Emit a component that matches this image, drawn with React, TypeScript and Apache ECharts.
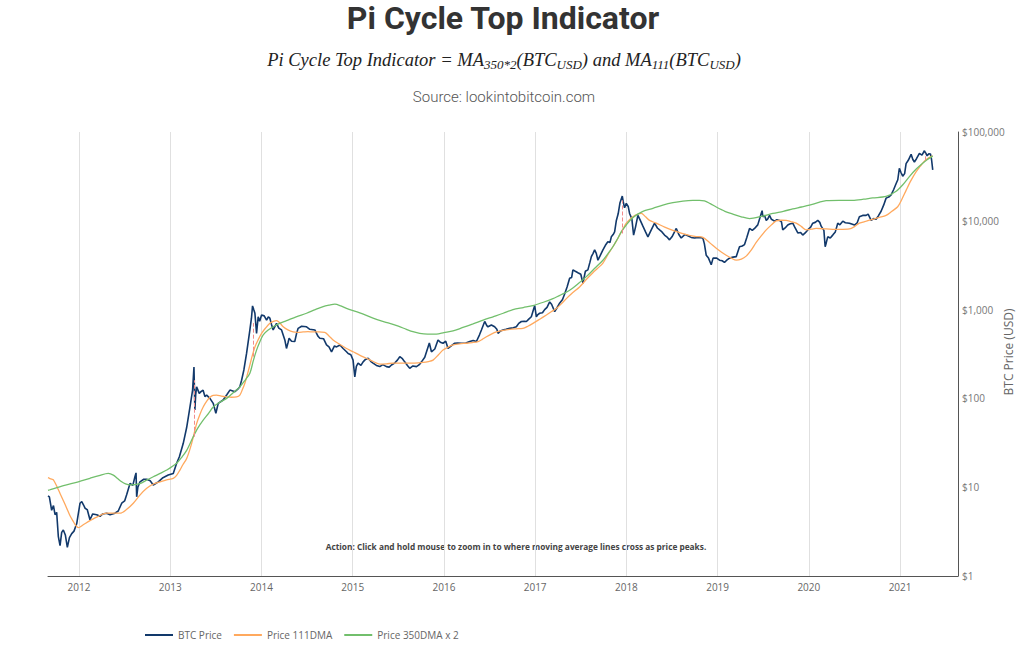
import React, { useEffect, useRef } from 'react';
import * as echarts from 'echarts';

// Decimal-year dates, values in USD
const btcPrice: [number, number][] = [
  [2011.66, 8.0], [2011.675, 7.8], [2011.7, 5.5], [2011.72, 6.2], [2011.737, 4.9], [2011.755, 5.2],
  [2011.773, 2.8], [2011.792, 2.2], [2011.81, 3.1], [2011.828, 3.3], [2011.85, 2.9], [2011.872, 2.1],
  [2011.895, 2.7], [2011.92, 3.0], [2011.945, 3.2], [2011.975, 3.9], [2011.992, 5.0], [2012.011, 6.6],
  [2012.03, 6.9], [2012.05, 6.3], [2012.066, 5.8], [2012.09, 5.6], [2012.12, 4.3], [2012.15, 5.0],
  [2012.194, 4.9], [2012.23, 4.7], [2012.26, 5.0], [2012.303, 5.1], [2012.34, 4.9], [2012.394, 5.1],
  [2012.43, 5.4], [2012.468, 6.6], [2012.5, 7.0], [2012.522, 8.2], [2012.559, 11.0], [2012.59, 10.5],
  [2012.613, 13.1], [2012.625, 14.5], [2012.632, 7.8], [2012.645, 10.0], [2012.668, 11.5], [2012.71, 12.3],
  [2012.742, 12.3], [2012.78, 11.8], [2012.814, 10.6], [2012.84, 11.0], [2012.869, 11.5], [2012.92, 12.8],
  [2012.978, 13.7], [2013.033, 14.3], [2013.07, 18.6], [2013.1, 22], [2013.142, 31], [2013.18, 47],
  [2013.216, 80], [2013.245, 124], [2013.26, 225], [2013.27, 74], [2013.279, 110], [2013.289, 135],
  [2013.318, 114], [2013.34, 120], [2013.36, 124], [2013.38, 105], [2013.399, 109], [2013.435, 100],
  [2013.471, 88], [2013.5, 68], [2013.526, 88], [2013.58, 96], [2013.62, 110], [2013.654, 124],
  [2013.709, 119], [2013.74, 127], [2013.763, 135], [2013.782, 160], [2013.807, 209], [2013.837, 323],
  [2013.873, 590], [2013.89, 800], [2013.902, 1100], [2013.915, 1000], [2013.928, 910], [2013.946, 540],
  [2013.964, 830], [2013.98, 740], [2014.001, 870], [2014.03, 850], [2014.056, 760], [2014.075, 830],
  [2014.092, 800], [2014.11, 680], [2014.128, 590], [2014.145, 640], [2014.165, 700], [2014.19, 620],
  [2014.22, 590], [2014.256, 455], [2014.274, 365], [2014.29, 420], [2014.303, 475], [2014.33, 440],
  [2014.365, 437], [2014.385, 540], [2014.402, 615], [2014.44, 650], [2014.494, 640], [2014.53, 600],
  [2014.585, 590], [2014.62, 500], [2014.64, 475], [2014.68, 470], [2014.713, 400], [2014.74, 380],
  [2014.768, 335], [2014.8, 390], [2014.823, 380], [2014.86, 400], [2014.895, 365], [2014.932, 335],
  [2014.95, 320], [2014.98, 310], [2015.004, 270], [2015.023, 175], [2015.04, 230], [2015.059, 250],
  [2015.09, 235], [2015.114, 258], [2015.14, 275], [2015.169, 283], [2015.2, 260], [2015.223, 250],
  [2015.26, 235], [2015.297, 228], [2015.33, 240], [2015.37, 228], [2015.4, 225], [2015.425, 238],
  [2015.46, 250], [2015.49, 270], [2015.516, 295], [2015.545, 280], [2015.57, 258], [2015.6, 235],
  [2015.625, 218], [2015.66, 232], [2015.699, 228], [2015.73, 240], [2015.754, 258], [2015.79, 290],
  [2015.826, 380], [2015.84, 420], [2015.863, 335], [2015.9, 360], [2015.935, 455], [2015.96, 430],
  [2015.99, 418], [2016.02, 440], [2016.045, 365], [2016.08, 390], [2016.118, 418], [2016.15, 420],
  [2016.192, 418], [2016.24, 420], [2016.283, 437], [2016.32, 450], [2016.356, 437], [2016.39, 520],
  [2016.411, 590], [2016.447, 735], [2016.47, 660], [2016.483, 640], [2016.52, 670], [2016.556, 640],
  [2016.58, 600], [2016.593, 540], [2016.62, 575], [2016.647, 590], [2016.68, 600], [2016.721, 615],
  [2016.76, 625], [2016.794, 640], [2016.82, 700], [2016.849, 735], [2016.88, 740], [2016.904, 735],
  [2016.93, 780], [2016.958, 830], [2016.995, 1110], [2017.013, 830], [2017.03, 880], [2017.049, 910],
  [2017.08, 920], [2017.104, 1000], [2017.13, 1060], [2017.159, 1220], [2017.18, 1150], [2017.214, 950],
  [2017.24, 1050], [2017.268, 1180], [2017.3, 1300], [2017.323, 1500], [2017.35, 1800], [2017.378, 2250],
  [2017.4, 2300], [2017.414, 2800], [2017.44, 2700], [2017.469, 2600], [2017.5, 2500], [2017.524, 1980],
  [2017.55, 2700], [2017.578, 2800], [2017.6, 3400], [2017.616, 3950], [2017.635, 4300], [2017.652, 4700],
  [2017.67, 4300], [2017.688, 3600], [2017.71, 4000], [2017.743, 4700], [2017.77, 5300], [2017.797, 5800],
  [2017.82, 5700], [2017.835, 6600], [2017.855, 7000], [2017.871, 7500], [2017.89, 10100], [2017.91, 12000],
  [2017.93, 16000], [2017.955, 19000], [2017.965, 16500], [2017.98, 14000], [2017.999, 15700], [2018.02, 14500],
  [2018.035, 12100], [2018.06, 10500], [2018.079, 6900], [2018.1, 8500], [2018.126, 11500], [2018.145, 10500],
  [2018.181, 8700], [2018.21, 7500], [2018.236, 6600], [2018.27, 7800], [2018.309, 9400], [2018.34, 8300],
  [2018.364, 7900], [2018.39, 7500], [2018.418, 6900], [2018.45, 6500], [2018.473, 6100], [2018.5, 6600],
  [2018.547, 8200], [2018.575, 7000], [2018.601, 6400], [2018.64, 7000], [2018.674, 6800], [2018.71, 6500],
  [2018.747, 6400], [2018.79, 6500], [2018.838, 6400], [2018.855, 5500], [2018.875, 4100], [2018.9, 3800],
  [2018.93, 3200], [2018.95, 3800], [2018.966, 3800], [2018.99, 3800], [2019.021, 3600], [2019.05, 3550],
  [2019.075, 3400], [2019.1, 3600], [2019.13, 3800], [2019.17, 3900], [2019.204, 3950], [2019.24, 5100],
  [2019.27, 5200], [2019.295, 5400], [2019.32, 6500], [2019.35, 8200], [2019.38, 7800], [2019.405, 8200],
  [2019.44, 9000], [2019.478, 12100], [2019.488, 13000], [2019.496, 11100], [2019.515, 11500], [2019.533, 10100],
  [2019.55, 10500], [2019.569, 11500], [2019.59, 10400], [2019.624, 9900], [2019.65, 10300], [2019.679, 10100],
  [2019.7, 9700], [2019.714, 7900], [2019.74, 8300], [2019.769, 8960], [2019.79, 9200], [2019.824, 9400],
  [2019.85, 8300], [2019.879, 7300], [2019.91, 7400], [2019.933, 6900], [2019.96, 7300], [2019.988, 7900],
  [2020.02, 8500], [2020.043, 9400], [2020.07, 9600], [2020.098, 10100], [2020.12, 9600], [2020.135, 8700],
  [2020.165, 7800], [2020.179, 5100], [2020.19, 5600], [2020.207, 6600], [2020.235, 6400], [2020.262, 6900],
  [2020.29, 7500], [2020.317, 9400], [2020.34, 9000], [2020.372, 9900], [2020.4, 9500], [2020.445, 9400],
  [2020.47, 9200], [2020.5, 8960], [2020.53, 9500], [2020.554, 11100], [2020.59, 11500], [2020.628, 11500],
  [2020.65, 11900], [2020.683, 10100], [2020.71, 10600], [2020.737, 10400], [2020.76, 11300], [2020.792, 12800],
  [2020.82, 15000], [2020.847, 18000], [2020.875, 18500], [2020.902, 19600], [2020.93, 22500], [2020.957, 26300],
  [2020.975, 29000], [2020.992, 39000], [2021.01, 35000], [2021.029, 31800], [2021.05, 34000], [2021.066, 44000],
  [2021.09, 48000], [2021.121, 56000], [2021.14, 49000], [2021.157, 46000], [2021.18, 50000], [2021.212, 57500],
  [2021.24, 55000], [2021.267, 61500], [2021.28, 58000], [2021.297, 54000], [2021.315, 57000], [2021.333, 56500],
  [2021.345, 49000], [2021.358, 37500],
];

const dma111: [number, number][] = [
  [2011.66, 12.8], [2011.675, 12.6], [2011.7, 12.3], [2011.719, 12.1], [2011.755, 10.3], [2011.792, 8.5],
  [2011.83, 7.0], [2011.865, 5.8], [2011.9, 4.8], [2011.938, 4.1], [2011.965, 3.7], [2011.992, 3.5],
  [2012.05, 3.8], [2012.12, 4.2], [2012.21, 4.7], [2012.303, 5.1], [2012.38, 5.1], [2012.449, 5.1],
  [2012.52, 5.6], [2012.595, 6.6], [2012.67, 8.2], [2012.742, 9.7], [2012.81, 10.8], [2012.887, 11.5],
  [2012.96, 12.1], [2013.033, 12.6], [2013.07, 13.6], [2013.106, 15.6], [2013.14, 18], [2013.18, 21],
  [2013.234, 31], [2013.289, 52], [2013.325, 66], [2013.361, 80], [2013.4, 93], [2013.435, 103],
  [2013.47, 108], [2013.508, 109], [2013.56, 106], [2013.618, 104], [2013.67, 103], [2013.727, 104],
  [2013.763, 109], [2013.79, 125], [2013.818, 148], [2013.845, 185], [2013.873, 238], [2013.9, 305],
  [2013.928, 380], [2013.965, 460], [2014.001, 540], [2014.045, 620], [2014.092, 700], [2014.13, 735],
  [2014.165, 750], [2014.2, 710], [2014.238, 640], [2014.29, 590], [2014.347, 560], [2014.4, 555],
  [2014.457, 560], [2014.51, 565], [2014.566, 560], [2014.63, 560], [2014.694, 555], [2014.74, 505],
  [2014.785, 455], [2014.86, 405], [2014.932, 365], [2015.004, 335], [2015.08, 305], [2015.151, 283],
  [2015.22, 262], [2015.297, 243], [2015.37, 245], [2015.443, 250], [2015.515, 250], [2015.589, 250],
  [2015.68, 250], [2015.771, 254], [2015.83, 260], [2015.881, 270], [2015.94, 310], [2015.99, 350],
  [2016.045, 378], [2016.1, 400], [2016.17, 412], [2016.246, 418], [2016.31, 425], [2016.374, 437],
  [2016.42, 462], [2016.466, 495], [2016.52, 530], [2016.575, 560], [2016.65, 585], [2016.721, 600],
  [2016.79, 608], [2016.866, 615], [2016.92, 650], [2016.976, 700], [2017.05, 780], [2017.123, 870],
  [2017.18, 950], [2017.232, 1030], [2017.29, 1170], [2017.342, 1330], [2017.41, 1550], [2017.487, 1800],
  [2017.56, 2180], [2017.633, 2600], [2017.69, 2950], [2017.743, 3340], [2017.8, 4200], [2017.852, 5100],
  [2017.89, 5900], [2017.926, 6900], [2017.96, 8000], [2017.999, 9400], [2018.035, 10300], [2018.071, 11100],
  [2018.12, 11800], [2018.163, 12100], [2018.21, 11100], [2018.254, 10100], [2018.327, 9400], [2018.42, 8500],
  [2018.51, 7800], [2018.6, 7250], [2018.692, 6850], [2018.77, 6650], [2018.838, 6500], [2018.91, 5700],
  [2018.985, 4900], [2019.04, 4450], [2019.094, 4100], [2019.15, 3800], [2019.204, 3600], [2019.26, 3700],
  [2019.313, 4000], [2019.37, 4700], [2019.423, 5700], [2019.48, 6800], [2019.533, 7900], [2019.59, 9000],
  [2019.642, 10000], [2019.7, 10150], [2019.751, 10100], [2019.8, 9800], [2019.861, 9400], [2019.92, 8600],
  [2019.97, 7900], [2020.03, 8050], [2020.08, 8200], [2020.19, 8100], [2020.335, 8000], [2020.445, 8100],
  [2020.5, 8600], [2020.554, 9400], [2020.63, 9900], [2020.7, 10400], [2020.77, 10900], [2020.847, 11500],
  [2020.91, 12800], [2020.974, 14400], [2021.02, 17500], [2021.066, 22000], [2021.12, 28500], [2021.175, 35600],
  [2021.22, 41000], [2021.267, 47000], [2021.31, 51000], [2021.358, 54000],
];

const dma350x2: [number, number][] = [
  [2011.66, 9.2], [2011.675, 9.3], [2011.83, 10.4], [2011.992, 11.5], [2012.12, 12.6], [2012.22, 13.5],
  [2012.321, 14.3], [2012.376, 13.7], [2012.42, 12.6], [2012.468, 11.5], [2012.51, 10.9], [2012.559, 10.6],
  [2012.668, 11.0], [2012.74, 12.0], [2012.814, 13.1], [2012.89, 14.3], [2012.961, 15.6], [2013.07, 18.6],
  [2013.13, 22], [2013.18, 26], [2013.252, 37], [2013.3, 46], [2013.361, 57], [2013.42, 68],
  [2013.471, 80], [2013.54, 90], [2013.618, 100], [2013.69, 116], [2013.763, 135], [2013.82, 160],
  [2013.873, 192], [2013.91, 265], [2013.946, 350], [2013.98, 430], [2014.019, 520], [2014.07, 585],
  [2014.128, 640], [2014.2, 700], [2014.275, 750], [2014.38, 830], [2014.494, 910], [2014.59, 1000],
  [2014.676, 1080], [2014.74, 1120], [2014.804, 1150], [2014.87, 1100], [2014.932, 1030], [2015.078, 920],
  [2015.223, 800], [2015.32, 740], [2015.406, 700], [2015.5, 650], [2015.589, 600], [2015.66, 565],
  [2015.735, 540], [2015.82, 530], [2015.918, 530], [2016.0, 550], [2016.1, 575], [2016.2, 625],
  [2016.319, 690], [2016.43, 760], [2016.538, 830], [2016.65, 910], [2016.757, 1000], [2016.87, 1055],
  [2016.976, 1110], [2017.09, 1210], [2017.195, 1330], [2017.29, 1480], [2017.378, 1650], [2017.47, 1950],
  [2017.561, 2350], [2017.65, 2900], [2017.743, 3600], [2017.8, 4300], [2017.852, 5100], [2017.9, 6200],
  [2017.944, 7500], [2018.0, 9000], [2018.054, 10500], [2018.12, 11800], [2018.181, 12800], [2018.291, 13800],
  [2018.4, 15000], [2018.51, 16000], [2018.62, 16700], [2018.728, 17000], [2018.8, 17000], [2018.856, 16800],
  [2018.92, 15600], [2018.985, 14300], [2019.08, 12800], [2019.167, 11900], [2019.26, 11100], [2019.35, 10600],
  [2019.48, 11200], [2019.605, 12100], [2019.72, 12800], [2019.824, 13600], [2019.92, 14300], [2020.007, 15000],
  [2020.1, 16000], [2020.19, 16900], [2020.33, 17000], [2020.481, 17000], [2020.6, 17500], [2020.7, 18100],
  [2020.847, 18800], [2020.957, 21500], [2021.03, 25500], [2021.102, 31500], [2021.18, 38500], [2021.248, 44500],
  [2021.3, 49000], [2021.358, 53500],
];

// [date, low, high] of the dashed markers where the averages cross at price peaks
const peakCrosses: [number, number, number][] = [
  [2013.262, 37, 160],
  [2013.905, 295, 705],
  [2017.952, 7200, 17000],
  [2021.28, 48000, 57000],
];

const seriesNames = ['BTC Price', 'Price 111DMA', 'Price 350DMA x 2'];
const yAxisTitle = 'BTC Price (USD)';
const xMin = 2011.66;
const xMax = 2021.635;
const yMin = 1;
const yMax = 100000;

export default function App() {
  const ref = useRef<HTMLDivElement>(null);
  useEffect(() => {
    document.body.style.margin = '0';
    const chart = echarts.init(ref.current!, null, { renderer: 'svg' });
    chart.setOption({
      animation: false,
      backgroundColor: '#ffffff',
      grid: { left: 48, right: 66, top: 132, bottom: 79, containLabel: false, outerBoundsMode: 'none' },
      legend: {
        data: seriesNames,
        left: 140,
        top: 625,
        icon: 'rect',
        itemWidth: 28,
        itemHeight: 2,
        itemGap: 12,
        textStyle: { color: '#666', fontSize: 10, fontFamily: 'Open Sans' },
      },
      xAxis: {
        type: 'value',
        min: xMin,
        max: xMax,
        splitNumber: 10,
        minInterval: 1,
        maxInterval: 1,
        axisLine: { show: true, onZero: false, lineStyle: { color: '#555', width: 1 } },
        axisTick: { show: false },
        axisLabel: {
          color: '#666',
          fontSize: 10,
          fontFamily: 'Open Sans',
          margin: 6,
          showMinLabel: false,
          showMaxLabel: false,
          formatter: (v: number) => (Math.abs(v - Math.round(v)) < 1e-6 ? String(Math.round(v)) : ''),
        },
        splitLine: { show: true, showMinLine: false, showMaxLine: false, lineStyle: { color: '#e0e0e0', width: 1 } },
      },
      yAxis: {
        type: 'log',
        logBase: 10,
        min: yMin,
        max: yMax,
        position: 'right',
        axisLine: { show: true, lineStyle: { color: '#555', width: 1 } },
        axisTick: { show: false },
        splitLine: { show: false },
        axisLabel: {
          color: '#777',
          fontSize: 10,
          fontFamily: 'Open Sans',
          margin: 4,
          formatter: (v: number) => '$' + Math.round(v).toLocaleString('en-US'),
        },
      },
      graphic: [
        {
          type: 'text',
          x: 503,
          y: 18,
          style: {
            text: 'Pi Cycle Top Indicator',
            align: 'center',
            verticalAlign: 'middle',
            fontFamily: 'Roboto',
            fontWeight: 'bold',
            fontSize: 32,
            fill: '#333',
          },
        },
        {
          type: 'text',
          x: 504,
          y: 60,
          style: {
            text: '{m|Pi Cycle Top Indicator = MA}{s|350*2}{m|(BTC}{s|USD}{m|) and MA}{s|111}{m|(BTC}{s|USD}{m|)}',
            align: 'center',
            verticalAlign: 'middle',
            rich: {
              m: { fontFamily: 'Liberation Serif', fontStyle: 'italic', fontSize: 18.5, lineHeight: 21, fill: '#222' },
              s: { fontFamily: 'Liberation Serif', fontStyle: 'italic', fontSize: 13, lineHeight: 12, verticalAlign: 'bottom', fill: '#222' },
            },
          },
        },
        {
          type: 'text',
          x: 504,
          y: 97,
          style: {
            text: 'Source: lookintobitcoin.com',
            align: 'center',
            verticalAlign: 'middle',
            fontFamily: 'Roboto',
            fontWeight: 300,
            fontSize: 15,
            fill: '#555',
          },
        },
        {
          type: 'text',
          x: 516,
          y: 546,
          style: {
            text: 'Action: Click and hold mouse to zoom in to where moving average lines cross as price peaks.',
            align: 'center',
            verticalAlign: 'middle',
            fontFamily: 'Open Sans',
            fontWeight: 'bold',
            fontSize: 8.3,
            fill: '#444',
          },
        },
        {
          type: 'text',
          x: 1008,
          y: 352,
          rotation: Math.PI / 2,
          style: {
            text: yAxisTitle,
            align: 'center',
            verticalAlign: 'middle',
            fontFamily: 'Open Sans',
            fontSize: 12,
            fill: '#666',
          },
        },
      ],
      series: [
        {
          name: seriesNames[0],
          type: 'line',
          data: btcPrice,
          showSymbol: false,
          symbol: 'none',
          lineStyle: { color: '#12396b', width: 1.6 },
          itemStyle: { color: '#12396b' },
          markLine: {
            silent: true,
            symbol: 'none',
            label: { show: false },
            lineStyle: { color: '#f28b8b', type: 'dashed', width: 1 },
            data: peakCrosses.map(([x, lo, hi]) => [{ coord: [x, lo] }, { coord: [x, hi] }]),
          },
        },
        {
          name: seriesNames[1],
          type: 'line',
          data: dma111,
          showSymbol: false,
          symbol: 'none',
          smooth: 0.3,
          lineStyle: { color: '#ffa95e', width: 1.3 },
          itemStyle: { color: '#ffa95e' },
        },
        {
          name: seriesNames[2],
          type: 'line',
          data: dma350x2,
          showSymbol: false,
          symbol: 'none',
          smooth: 0.3,
          lineStyle: { color: '#72bf6c', width: 1.3 },
          itemStyle: { color: '#72bf6c' },
        },
      ],
    });
    return () => chart.dispose();
  }, []);
  return <div ref={ref} style={{ width: 1024, height: 655 }} />;
}
